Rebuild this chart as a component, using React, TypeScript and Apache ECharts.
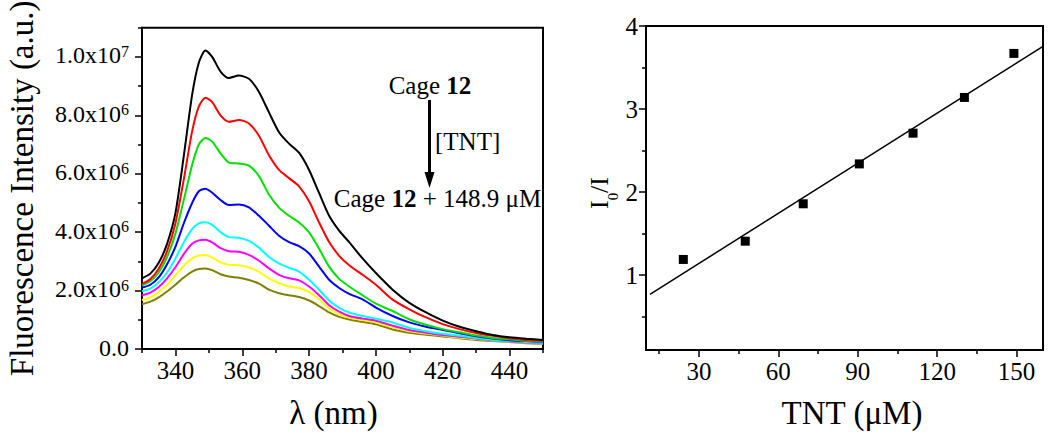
import React, { useEffect, useRef } from "react";
import * as echarts from "echarts";

const FONT = "'Liberation Serif', 'Times New Roman', serif";

// Left panel: emission spectra (intensity in units of 1e6)
const wavelengths = [330, 332.5, 335, 337.5, 340, 342.5, 345, 347, 349, 351, 353.5, 356, 359, 362, 365, 368, 371, 374, 377, 380, 383, 386, 389, 392, 396, 400, 405, 410, 415, 420, 425, 430, 435, 440, 445, 450];
const spectrum0 = [2.42, 2.58, 2.95, 3.6, 4.65, 6.6, 8.7, 9.8, 10.22, 10.0, 9.5, 9.28, 9.36, 9.25, 8.8, 8.1, 7.42, 7.03, 6.72, 6.13, 5.34, 4.56, 4.05, 3.66, 3.1, 2.6, 2.03, 1.58, 1.25, 0.97, 0.76, 0.61, 0.48, 0.40, 0.35, 0.31];
const spectrum1 = [2.23, 2.40, 2.75, 3.35, 4.3, 5.8, 7.45, 8.3, 8.6, 8.45, 8.0, 7.78, 7.84, 7.72, 7.3, 6.63, 6.13, 5.85, 5.57, 5.06, 4.33, 3.66, 3.19, 2.87, 2.54, 2.2, 1.69, 1.36, 1.08, 0.85, 0.68, 0.55, 0.45, 0.37, 0.31, 0.29];
const spectrum2 = [2.18, 2.32, 2.62, 3.15, 3.95, 5.1, 6.3, 7.0, 7.22, 7.1, 6.7, 6.38, 6.35, 6.28, 5.92, 5.29, 4.84, 4.56, 4.33, 3.99, 3.43, 2.82, 2.40, 2.14, 1.84, 1.55, 1.30, 1.02, 0.83, 0.68, 0.57, 0.46, 0.38, 0.33, 0.28, 0.26];
const spectrum3 = [2.10, 2.20, 2.45, 2.9, 3.5, 4.3, 5.0, 5.4, 5.49, 5.35, 5.1, 4.93, 4.95, 4.85, 4.56, 4.22, 3.88, 3.66, 3.52, 3.27, 2.82, 2.37, 2.09, 1.89, 1.70, 1.42, 1.13, 0.91, 0.76, 0.65, 0.54, 0.44, 0.36, 0.30, 0.27, 0.25];
const spectrum4 = [1.98, 2.07, 2.28, 2.62, 3.1, 3.65, 4.1, 4.3, 4.34, 4.25, 4.0, 3.83, 3.81, 3.7, 3.47, 3.15, 2.93, 2.78, 2.65, 2.37, 2.03, 1.66, 1.41, 1.25, 1.13, 1.04, 0.91, 0.72, 0.61, 0.52, 0.45, 0.38, 0.31, 0.27, 0.24, 0.21];
const spectrum5 = [1.84, 1.93, 2.12, 2.42, 2.8, 3.25, 3.6, 3.72, 3.74, 3.65, 3.45, 3.35, 3.33, 3.22, 3.02, 2.76, 2.54, 2.42, 2.35, 2.14, 1.84, 1.50, 1.28, 1.13, 1.04, 0.97, 0.80, 0.65, 0.56, 0.48, 0.42, 0.36, 0.30, 0.26, 0.22, 0.20];
const spectrum6 = [1.68, 1.77, 1.95, 2.2, 2.52, 2.85, 3.1, 3.2, 3.22, 3.13, 2.97, 2.88, 2.87, 2.8, 2.64, 2.42, 2.25, 2.14, 2.09, 1.95, 1.70, 1.39, 1.19, 1.08, 0.99, 0.91, 0.74, 0.61, 0.53, 0.46, 0.39, 0.34, 0.29, 0.25, 0.21, 0.19];
const spectrum7 = [1.53, 1.62, 1.77, 1.97, 2.2, 2.45, 2.65, 2.74, 2.76, 2.70, 2.56, 2.48, 2.44, 2.36, 2.24, 2.03, 1.91, 1.84, 1.78, 1.66, 1.47, 1.25, 1.10, 1.01, 0.93, 0.85, 0.67, 0.56, 0.49, 0.43, 0.37, 0.31, 0.27, 0.24, 0.20, 0.18];
const spectra = [spectrum0, spectrum1, spectrum2, spectrum3, spectrum4, spectrum5, spectrum6, spectrum7];
const spectraColors = ["#000000", "#ff0000", "#00e000", "#0000ff", "#00ffff", "#ff00ff", "#ffff00", "#808000"];

const leftXLabels = [340, 360, 380, 400, 420, 440];
const leftXMinor = [330, 350, 370, 390, 410, 430, 450];
const leftYLabels = [0, 2, 4, 6, 8, 10];
const leftYMinor = [1, 3, 5, 7, 9, 11];

// Right panel: Stern-Volmer plot
const tntConc = [24.1, 47.5, 69.4, 90.6, 110.9, 130.3, 149.0];
const ratio = [1.19, 1.41, 1.86, 2.34, 2.71, 3.14, 3.67];
const fitX = [11.5, 160];
const fitY = [0.77, 3.755];
const rightXLabels = [30, 60, 90, 120, 150];
const rightXMinor = [15, 45, 75, 105, 135];
const rightYLabels = [1, 2, 3, 4];
const rightYMinor = [0.5, 1.5, 2.5, 3.5];

const axisLineStyle = { show: true, onZero: false, lineStyle: { color: "#000", width: 2 } };
const labelStyle = { color: "#000", fontFamily: FONT, fontSize: 25 };

function majorAxis(extra: any, labels: number[], margin: number) {
  return {
    type: "value",
    axisLine: axisLineStyle,
    splitLine: { show: false },
    axisTick: { show: true, customValues: labels, length: 7, lineStyle: { color: "#000", width: 1.5 } },
    axisLabel: { show: true, customValues: labels, margin, ...labelStyle },
    ...extra,
  };
}
function minorAxis(extra: any, ticks: number[]) {
  return {
    type: "value",
    axisLine: { show: false, onZero: false },
    splitLine: { show: false },
    axisLabel: { show: false },
    axisTick: { show: true, customValues: ticks, length: 4, lineStyle: { color: "#000", width: 1.5 } },
    ...extra,
  };
}

export default function App() {
  const ref = useRef<HTMLDivElement>(null);
  useEffect(() => {
    if (!ref.current) return;
    const chart = echarts.init(ref.current, null, { renderer: "svg" });
    const lineSeries = spectra.map((vals, i) => ({
      type: "line",
      xAxisIndex: 0,
      yAxisIndex: 0,
      showSymbol: false,
      smooth: 0.25,
      data: wavelengths.map((w, j) => [w, vals[j]]),
      lineStyle: { color: spectraColors[i], width: 2 },
      itemStyle: { color: spectraColors[i] },
      z: 10 - i,
    }));
    const titleStyle = { color: "#000", fontFamily: FONT, fontSize: 33 };
    const option: any = {
      animation: false,
      textStyle: { fontFamily: FONT },
      grid: [
        { left: 142, top: 25, width: 401, height: 327, show: true, borderColor: "#000", borderWidth: 2, backgroundColor: "transparent" },
        { left: 646, top: 26, width: 397, height: 324, show: true, borderColor: "#000", borderWidth: 2, backgroundColor: "transparent" },
      ],
      xAxis: [
        majorAxis({ gridIndex: 0, position: "bottom", min: 330, max: 450, name: "λ (nm)", nameLocation: "middle", nameGap: 47,
          nameTextStyle: { ...titleStyle, padding: [0, 18, 0, 0] } }, leftXLabels, 9),
        minorAxis({ gridIndex: 0, position: "bottom", min: 330, max: 450 }, leftXMinor),
        majorAxis({ gridIndex: 1, position: "bottom", min: 10, max: 160, name: "TNT (μM)", nameLocation: "middle", nameGap: 46,
          nameTextStyle: { ...titleStyle, padding: [0, 0, 0, 15] } }, rightXLabels, 9),
        minorAxis({ gridIndex: 1, position: "bottom", min: 10, max: 160 }, rightXMinor),
      ],
      yAxis: [
        (() => {
          const a: any = majorAxis({ gridIndex: 0, position: "left", min: 0, max: 11, name: "Fluorescence Intensity (a.u.)", nameLocation: "middle", nameGap: 104,
            nameTextStyle: titleStyle }, leftYLabels, 13);
          a.axisLabel.formatter = (v: number) => {
            if (v === 0) return "{n|0.0}";
            const e = v >= 10 ? 7 : 6;
            const m = v / Math.pow(10, e - 6);
            return `{n|${m.toFixed(1)}x10}{s|${e}}`;
          };
          a.axisLabel.rich = {
            n: { fontSize: 24, fontFamily: FONT, color: "#000", lineHeight: 27, verticalAlign: "top" },
            s: { fontSize: 16, fontFamily: FONT, color: "#000", lineHeight: 16, verticalAlign: "top" },
          };
          return a;
        })(),
        minorAxis({ gridIndex: 0, position: "left", min: 0, max: 11 }, leftYMinor),
        majorAxis({ gridIndex: 1, position: "left", min: 0.1, max: 4 }, rightYLabels, 8),
        minorAxis({ gridIndex: 1, position: "left", min: 0.1, max: 4 }, rightYMinor),
      ],
      series: [
        ...lineSeries,
        {
          type: "line",
          xAxisIndex: 2,
          yAxisIndex: 2,
          showSymbol: false,
          data: fitX.map((x, i) => [x, fitY[i]]),
          lineStyle: { color: "#000", width: 1.5 },
          z: 5,
        },
        {
          type: "scatter",
          xAxisIndex: 2,
          yAxisIndex: 2,
          symbol: "rect",
          symbolSize: 9,
          itemStyle: { color: "#000", opacity: 1 },
          data: tntConc.map((x, i) => [x, ratio[i]]),
          z: 6,
        },
      ],
      graphic: [
        {
          type: "text", x: 430, y: 85,
          style: { text: "{r|Cage }{b|12}", align: "center", verticalAlign: "middle", fill: "#000",
            rich: { r: { fontSize: 25, fontFamily: FONT, fill: "#000" }, b: { fontSize: 25, fontFamily: FONT, fontWeight: "bold", fill: "#000" } } },
        },
        { type: "line", shape: { x1: 429.5, y1: 100, x2: 429.5, y2: 176 }, style: { stroke: "#000", lineWidth: 3 } },
        { type: "polygon", shape: { points: [[424.5, 172], [434.5, 172], [429.5, 188]] }, style: { fill: "#000" } },
        {
          type: "text", x: 435, y: 141,
          style: { text: "[TNT]", align: "left", verticalAlign: "middle", fill: "#000", fontSize: 25, fontFamily: FONT },
        },
        {
          type: "text", x: 437.5, y: 198,
          style: { text: "{r|Cage }{b|12}{r| + 148.9 μM}", align: "center", verticalAlign: "middle", fill: "#000",
            rich: { r: { fontSize: 25, fontFamily: FONT, fill: "#000" }, b: { fontSize: 25, fontFamily: FONT, fontWeight: "bold", fill: "#000" } } },
        },
        {
          type: "text", x: 599, y: 193, rotation: Math.PI / 2,
          style: { text: "{a|I}{b|0}{a|/I}", align: "center", verticalAlign: "middle", fill: "#000",
            rich: {
              a: { fontSize: 26, fontFamily: FONT, fill: "#000", lineHeight: 26, verticalAlign: "top" },
              b: { fontSize: 15, fontFamily: FONT, fill: "#000", lineHeight: 15, verticalAlign: "top", padding: [19, 0, 0, 0] },
            } },
        },
      ],
    };
    chart.setOption(option);
    return () => chart.dispose();
  }, []);
  return <div ref={ref} style={{ position: "fixed", left: 0, top: 0, width: 1050, height: 434, background: "#fff" }} />;
}
